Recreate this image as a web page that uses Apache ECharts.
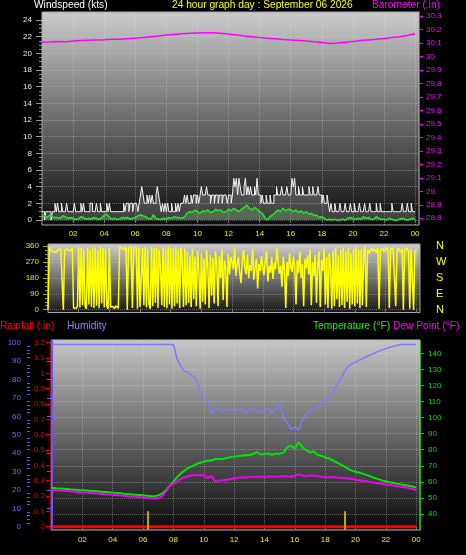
<!DOCTYPE html>
<html><head><meta charset="utf-8">
<script src="https://cdn.jsdelivr.net/npm/echarts@6/dist/echarts.min.js"></script>
<style>html,body{margin:0;padding:0;background:#000;overflow:hidden}#c{width:466px;height:555px}</style>
</head><body><div id="c"></div>
<script>
// ---------- DATA ----------
// Wind gust (kts), 5-minute samples from 00:00
const gust5min = [
1,1,0,1,1,1,1,0,1,1,2,1,
2,1,1,2,1,1,1,2,1,1,1,1,
1,2,1,1,1,1,2,1,2,1,1,1,
1,2,2,1,1,1,2,1,1,2,1,1,
1,1,2,1,2,1,1,1,1,1,1,1,
1,1,1,2,1,2,2,1,2,2,1,2,
2,2,1,2,3,4,3,2,2,3,2,3,
2,3,2,2,3,4,3,2,1,2,1,2,
1,2,1,1,2,1,1,2,1,2,1,2,
2,2,3,2,3,2,2,3,2,3,3,2,
3,2,3,4,3,3,3,4,3,3,2,3,
3,2,3,3,2,3,3,2,3,3,3,2,
3,3,2,3,5,4,5,3,5,4,3,3,
4,5,3,4,3,4,3,3,4,3,5,3,
3,2,3,2,2,3,2,2,3,2,2,3,
3,4,3,3,3,4,3,3,3,4,3,3,
3,5,4,5,3,3,4,3,3,4,3,3,
3,3,4,3,3,4,3,3,3,4,3,3,
2,3,2,2,3,2,1,2,1,1,2,1,
1,1,2,1,1,1,2,1,1,1,2,1,
1,2,1,1,1,2,1,1,1,2,1,1,
1,2,1,1,1,1,2,1,1,2,1,1,
1,1,1,1,1,1,2,1,1,1,1,1,
1,1,2,1,1,1,2,1,1,2,1,1,
1];
// Average wind (kts), 10-minute samples
const windAvg10min = [
0.4,0.5,0.3,0.6,0.4,0.3,
0.3,0.2,0.5,0.4,0.2,0.3,
0.2,0.1,0.1,0.4,0.3,0.1,
0.2,0.1,0.3,0.2,0.1,0.2,
0.6,0.7,0.3,0.1,0.2,0.1,
0.1,0.3,0.2,0.3,0.1,0.2,
0.3,0.5,0.6,0.5,0.4,0.2,
0.1,0.6,0.2,0.1,0.1,0.2,
0.1,0.3,0.2,0.4,0.3,0.3,
0.2,0.4,0.8,1.0,0.9,1.2,
1.0,0.8,1.1,1.0,1.2,0.9,
1.0,1.3,1.1,1.2,0.9,1.0,
1.3,1.1,1.4,1.2,1.0,1.3,
1.5,1.8,1.4,1.2,1.5,1.3,
1.0,0.8,0.3,0.0,0.4,0.6,
0.9,1.2,1.0,1.4,1.1,1.3,
1.2,1.0,1.2,0.9,1.1,0.8,
1.0,0.7,0.8,0.5,0.6,0.3,
0.4,0.2,0.0,0.1,0.0,0.1,
0.0,0.0,0.1,0.0,0.2,0.3,
0.2,0.1,0.2,0.1,0.4,0.2,
0.3,0.1,0.1,0.4,0.2,0.1,
0.1,0.0,0.2,0.1,0.0,0.0,
0.1,0.2,0.1,0.0,0.1,0.2,
0.1];
// Barometer (in), 30-minute samples
const baro30min = [
30.105,30.108,30.112,30.110,30.114,30.118,30.120,30.122,
30.124,30.127,30.128,30.132,30.136,30.140,30.146,30.152,
30.160,30.164,30.168,30.172,30.174,30.176,30.176,30.172,
30.166,30.160,30.152,30.146,30.140,30.136,30.132,30.126,
30.122,30.118,30.114,30.110,30.104,30.096,30.100,30.106,
30.112,30.118,30.123,30.128,30.134,30.140,30.147,30.156,
30.168];
// Wind direction (deg), 5-minute samples
const dir5min = [
0,355,340,335,330,340,325,335,340,330,345,335,
0,340,330,345,338,332,340,350,10,15,8,20,
355,12,350,25,345,18,5,352,30,340,15,348,
10,355,22,340,8,358,35,350,12,345,20,5,
352,15,10,18,5,22,12,8,355,345,350,358,
340,355,0,350,345,358,10,352,348,355,5,350,
15,8,350,25,358,12,345,30,5,355,20,352,
40,350,10,340,235,25,355,15,345,8,360,30,
350,5,345,20,355,35,340,10,352,280,15,348,
25,330,40,310,15,345,60,300,20,335,220,5,
320,45,290,30,340,250,10,310,80,295,35,330,
260,20,305,180,340,55,280,240,15,315,200,300,
270,230,350,190,260,300,210,150,280,340,240,200,
310,180,255,220,345,170,240,290,120,260,220,305,
240,195,280,330,160,250,210,300,175,265,230,350,
280,205,250,130,300,225,10,270,190,320,240,215,
300,245,30,280,210,330,180,260,20,290,235,310,
200,340,25,270,190,310,40,255,330,15,285,220,
345,30,300,10,320,240,5,335,20,350,60,310,
15,340,25,355,10,330,45,350,5,320,30,345,
20,355,35,340,10,345,25,330,358,15,340,320,
335,350,330,345,340,325,350,5,340,335,345,330,
340,355,330,10,345,338,350,342,20,335,348,340,
325,345,0,340,335,350,330,5,345,340,0,330,
340];
// Humidity (%), 15-minute samples
const humidity15 = [
99,99,99,99,99,99,99,99,99,99,99,99,99,99,99,99,
99,99,99,99,99,99,99,99,99,99,99,99,99,99,99,99,
99,91,87,84.5,83.5,82,80,74,69,69.5,61.5,64,64,63,64,63.5,
64,63,64,62,63,64,63,62,63,64,62,64,67,59,56.5,53,
54,52.5,58,61,63,64,65,67,68,70,73,77,80,84,87,88.5,
89.5,90.5,91.5,92.5,93.5,94.3,95.3,96,96.8,97.5,98,98.6,99,99,99,99,
99];
// Temperature (F), 15-minute samples
const temperature15 = [
56.2,56.0,55.9,55.7,55.5,55.3,55.1,54.9,
54.7,54.6,54.4,54.3,54.1,53.9,53.7,53.5,
53.3,53.1,52.9,52.6,52.4,52.2,52.0,51.8,
51.6,51.4,51.2,51.1,51.6,52.6,54.8,57.5,
60.0,63.0,65.3,67.2,68.8,69.8,71.0,71.9,
72.6,73.2,73.5,74.1,74.4,74.0,74.9,75.4,
75.7,76.0,76.3,76.7,76.5,77.3,78.6,77.0,
77.3,77.6,76.9,77.7,77.4,78.2,81.4,82.6,
80.6,84.6,81.6,79.8,78.3,78.9,76.9,76.1,
75.3,74.5,73.4,72.2,70.9,69.6,68.2,67.0,
66.3,65.8,65.0,64.2,63.3,62.5,61.7,60.9,
60.3,59.7,59.3,58.9,58.4,58.0,57.6,57.1,
56.5];
// Dew point (F), 15-minute samples
const dewPoint15 = [
55.0,54.9,54.7,54.5,54.3,54.1,53.9,53.6,
53.5,53.3,53.1,52.9,52.7,52.5,52.3,52.1,
51.9,51.7,51.5,51.3,51.1,50.9,50.7,50.5,
50.3,50.1,49.9,49.8,50.0,51.0,54.0,57.2,
58.8,60.2,61.8,62.9,63.6,63.9,64.1,64.3,
64.0,62.5,63.5,60.3,60.8,61.0,61.3,61.8,
62.2,62.6,62.8,62.6,63.0,63.2,63.3,63.0,
63.2,63.4,63.3,63.1,63.5,63.7,63.4,63.3,
63.6,64.7,63.9,63.7,64.0,63.9,63.6,63.1,
62.9,62.9,62.9,62.7,62.5,62.4,62.2,61.8,
61.3,61.0,60.7,60.3,59.9,59.5,59.1,58.8,
58.4,58.1,57.7,57.3,57.0,56.6,56.2,55.6,
54.7];
// Rainfall (in), hourly
const rainHourly = [0,0,0,0,0,0,0,0,0,0,0,0,0,0,0,0,0,0,0,0,0,0,0,0,0];
// Sunrise / sunset markers (hour) and their height on the rain scale
const sunMarks = [6.34, 19.32];
const sunMarkTop = 0.1;

// Tick labels
const hourTicks = [2,4,6,8,10,12,14,16,18,20,22,24];
const windTicks = [0,2,4,6,8,10,12,14,16,18,20,22,24];
const baroTicks = [28.8,28.9,29.0,29.1,29.2,29.3,29.4,29.5,29.6,29.7,29.8,29.9,30.0,30.1,30.2,30.3];
const dirTicks = [0,90,180,270,360];
const dirLetters = ['N','E','S','W','N'];
const humTicks = [0,10,20,30,40,50,60,70,80,90,100];
const rainTicks = [0,0.1,0.2,0.3,0.4,0.5,0.6,0.7,0.8,0.9,1.0,1.1,1.2];
const tempTicks = [40,50,60,70,80,90,100,110,120,130,140];

// ---------- CHART ----------
const FONT = '"Liberation Sans", Arial, sans-serif';
const TITLE_FONT = '10.2px ' + FONT;
const pairs = (arr, step) => arr.map((v, i) => [+(i * step).toFixed(4), v]);
const minors = (ticks, n) => {
  const out = [];
  for (let i = 0; i < ticks.length - 1; i++) {
    const a = ticks[i], b = ticks[i + 1];
    for (let k = 1; k < n; k++) out.push(+(a + (b - a) * k / n).toFixed(4));
  }
  return out;
};
const grad = (c0, c1, c2) => ({type: 'linear', x: 0, y: 0, x2: 0, y2: 1,
  colorStops: [{offset: 0, color: c0}, {offset: 0.5, color: c1}, {offset: 1, color: c2}]});
const gridLine = {show: true, lineStyle: {color: 'rgba(230,230,230,0.33)', type: 'dotted', width: 1}};
const noLine = {show: false};

function hourAxis(gridIndex, showLabels, margin) {
  return {
    type: 'value', gridIndex: gridIndex, min: 0, max: 24.25, minInterval: 2, maxInterval: 2,
    axisLine: noLine,
    axisTick: {show: true, customValues: hourTicks, length: 3, lineStyle: {color: '#777'}},
    axisLabel: {show: showLabels, customValues: hourTicks, margin: margin,
      formatter: v => String(Math.round(v) % 24).padStart(2, '0'),
      color: '#f0f000', fontSize: 8, fontFamily: FONT},
    splitLine: gridLine
  };
}
function minorAxis(gridIndex, pos, min, max, ticks, len, color, offset) {
  return {type: 'value', gridIndex: gridIndex, position: pos, min: min, max: max, offset: offset || 0,
    axisLine: noLine, axisLabel: {show: false}, splitLine: noLine,
    axisTick: {show: true, customValues: ticks, length: len, lineStyle: {color: color}}};
}
const fmt1 = v => String(+v.toFixed(1));

const option = {
  backgroundColor: '#000',
  animation: false,
  grid: [
    {left: 42, right: 47, top: 12, height: 213, show: true,
      backgroundColor: grad('#cbcbcb', '#6c6c6c', '#0c0c0c'), borderColor: '#a8a8a8', borderWidth: 1},
    {left: 48, right: 46, top: 244, height: 68.5, show: true,
      backgroundColor: grad('#cdcdcd', '#727272', '#161616'), borderColor: '#a8a8a8', borderWidth: 1},
    {left: 52, right: 46, top: 340, height: 190, show: true,
      backgroundColor: grad('#c6c6c6', '#686868', '#0a0a0a'), borderColor: '#bdbdbd', borderWidth: 1}
  ],
  xAxis: [hourAxis(0, true, 5), hourAxis(1, false, 5), hourAxis(2, true, 6)],
  yAxis: [
    // 0 wind
    {type: 'value', gridIndex: 0, position: 'left', min: -0.6, max: 24.96, minInterval: 2, maxInterval: 2,
      axisLine: noLine,
      axisTick: {show: true, customValues: windTicks, length: 6, lineStyle: {color: '#9a9a9a'}},
      axisLabel: {customValues: windTicks, margin: 10, color: '#dfe8ff', fontSize: 8, fontFamily: FONT},
      splitLine: gridLine},
    // 1 wind minor
    minorAxis(0, 'left', -0.6, 24.96, minors(windTicks, 4), 3, '#8a8a8a'),
    // 2 barometer
    {type: 'value', gridIndex: 0, position: 'right', min: 28.75, max: 30.33, minInterval: 0.1, maxInterval: 0.1,
      axisLine: {show: true, lineStyle: {color: '#ff00ff', type: 'dotted', width: 1}},
      axisTick: {show: true, customValues: baroTicks, length: 4, lineStyle: {color: '#ff00ff'}},
      axisLabel: {customValues: baroTicks, margin: 7, formatter: fmt1, color: '#ff00ff', fontSize: 8, fontFamily: FONT},
      splitLine: noLine},
    // 3 direction
    {type: 'value', gridIndex: 1, position: 'left', min: -16, max: 373, minInterval: 90, maxInterval: 90,
      axisLine: noLine,
      axisTick: {show: true, customValues: dirTicks, length: 5, lineStyle: {color: '#a8a800'}},
      axisLabel: {customValues: dirTicks, margin: 9, color: '#e8e800', fontSize: 8, fontFamily: FONT},
      splitLine: gridLine},
    // 4 direction minor
    minorAxis(1, 'left', -16, 373, minors(dirTicks, 4), 3, '#a8a800'),
    // 5 compass letters
    {type: 'value', gridIndex: 1, position: 'right', min: -16, max: 373, minInterval: 90, maxInterval: 90,
      axisLine: noLine, axisTick: {show: false}, splitLine: noLine,
      axisLabel: {customValues: dirTicks, margin: 16, color: '#ffff00', fontSize: 11, fontFamily: FONT,
        formatter: v => dirLetters[dirTicks.indexOf(Math.round(v))] || ''}},
    // 6 humidity
    {type: 'value', gridIndex: 2, position: 'left', offset: 22, min: -1.79, max: 101.47, minInterval: 10, maxInterval: 10,
      axisLine: {show: true, lineStyle: {color: '#5a5aff', width: 2}},
      axisTick: {show: true, customValues: humTicks, length: 5, lineStyle: {color: '#5a5aff'}},
      axisLabel: {customValues: humTicks, margin: 9, color: '#6c6cff', fontSize: 8, fontFamily: FONT},
      splitLine: noLine},
    // 7 humidity minor
    minorAxis(2, 'left', -1.79, 101.47, minors(humTicks, 5), 3, '#5a5aff', 22),
    // 8 rain
    {type: 'value', gridIndex: 2, position: 'left', offset: 2, min: -0.0215, max: 1.2176, minInterval: 0.1, maxInterval: 0.1,
      axisLine: {show: true, lineStyle: {color: '#e00000', type: 'dotted', width: 1}},
      axisTick: {show: true, customValues: rainTicks, length: 4, lineStyle: {color: '#e00000'}},
      axisLabel: {customValues: rainTicks, margin: 5, formatter: fmt1, color: '#e00000', fontSize: 8, fontFamily: FONT},
      splitLine: noLine},
    // 9 temperature / dew point
    {type: 'value', gridIndex: 2, position: 'right', min: 30.04, max: 148.28, minInterval: 10, maxInterval: 10,
      axisLine: {show: true, lineStyle: {color: '#00d000', type: 'dotted', width: 1}},
      axisTick: {show: true, customValues: tempTicks, length: 4, lineStyle: {color: '#00d000'}},
      axisLabel: {customValues: tempTicks, margin: 8, color: '#00e000', fontSize: 8, fontFamily: FONT},
      splitLine: gridLine}
  ],
  series: [
    {name: 'Gust', type: 'line', xAxisIndex: 0, yAxisIndex: 0, data: pairs(gust5min, 1 / 12),
      step: 'end', symbol: 'none', lineStyle: {color: '#f4f4f4', width: 1},
      areaStyle: {color: 'rgba(255,255,255,0.28)'}},
    {name: 'Wind', type: 'line', xAxisIndex: 0, yAxisIndex: 0, data: pairs(windAvg10min, 1 / 6),
      symbol: 'none', lineStyle: {color: '#22e622', width: 1.5},
      areaStyle: {color: 'rgba(150,255,150,0.3)'}},
    {name: 'Barometer', type: 'line', xAxisIndex: 0, yAxisIndex: 2, data: pairs(baro30min, 0.5),
      symbol: 'none', lineStyle: {color: '#ff00ff', width: 1.5}},
    {name: 'Direction', type: 'line', xAxisIndex: 1, yAxisIndex: 3, data: pairs(dir5min, 1 / 12),
      symbol: 'none', lineStyle: {color: '#ffff00', width: 1.5}},
    {name: 'Humidity', type: 'line', xAxisIndex: 2, yAxisIndex: 6, data: pairs(humidity15, 0.25),
      symbol: 'none', lineStyle: {color: '#7c7cff', width: 1.5}},
    {name: 'Rain', type: 'line', xAxisIndex: 2, yAxisIndex: 8, data: pairs(rainHourly, 1),
      symbol: 'none', lineStyle: {color: '#ff0000', width: 3},
      markLine: {silent: true, symbol: ['none', 'none'], label: {show: false},
        lineStyle: {color: '#b8a800', width: 2, type: 'solid'},
        data: sunMarks.map(h => [{coord: [h, -0.0215]}, {coord: [h, sunMarkTop]}])}},
    {name: 'Temperature', type: 'line', xAxisIndex: 2, yAxisIndex: 9, data: pairs(temperature15, 0.25),
      symbol: 'none', lineStyle: {color: '#00e600', width: 2}},
    {name: 'Dew Point', type: 'line', xAxisIndex: 2, yAxisIndex: 9, data: pairs(dewPoint15, 0.25),
      symbol: 'none', lineStyle: {color: '#f000f0', width: 2}}
  ],
  graphic: [
    {type: 'text', x: 34, y: 5, style: {text: 'Windspeed (kts)', fill: '#ffffff', font: TITLE_FONT, verticalAlign: 'middle'}},
    {type: 'text', x: 172, y: 5, style: {text: '24 hour graph day : September 06 2026', fill: '#ffff00', font: TITLE_FONT, verticalAlign: 'middle'}},
    {type: 'text', x: 372, y: 5, style: {text: 'Barometer (.in)', fill: '#ff00ff', font: TITLE_FONT, verticalAlign: 'middle'}},
    {type: 'text', x: 0, y: 326.5, style: {text: 'Rainfall (.in)', fill: '#ff0000', font: TITLE_FONT, verticalAlign: 'middle'}},
    {type: 'text', x: 67, y: 326.5, style: {text: 'Humidity', fill: '#8c8cff', font: TITLE_FONT, verticalAlign: 'middle'}},
    {type: 'text', x: 313, y: 326.5, style: {text: 'Temperature (°F)', fill: '#22e622', font: TITLE_FONT, verticalAlign: 'middle'}},
    {type: 'text', x: 393, y: 326.5, style: {text: 'Dew Point (°F)', fill: '#ff00ff', font: TITLE_FONT, verticalAlign: 'middle'}}
  ]
};
const chart = echarts.init(document.getElementById('c'), null, {renderer: 'canvas', width: 466, height: 555});
chart.setOption(option);
</script></body></html>
